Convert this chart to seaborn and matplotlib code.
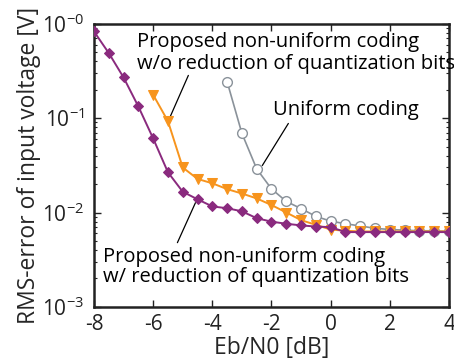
import matplotlib
matplotlib.use("Agg")
import matplotlib.pyplot as plt
import numpy as np
import seaborn as sns
from matplotlib.ticker import FixedLocator, FixedFormatter, LogLocator, NullFormatter

# Eb/N0 grids (dB) and RMS error [V]
ebn0_w = [-8, -7.5, -7, -6.5, -6, -5.5, -5, -4.5, -4, -3.5, -3, -2.5, -2, -1.5,
          -1, -0.5, 0, 0.5, 1, 1.5, 2, 2.5, 3, 3.5, 4]
rms_w_reduction = [0.83, 0.49, 0.27, 0.133, 0.061, 0.0267, 0.0166, 0.0138, 0.0116,
                   0.0111, 0.0103, 0.0087, 0.0080, 0.0076, 0.0073, 0.0071, 0.0070,
                   0.0062, 0.0062, 0.0062, 0.0062, 0.0062, 0.0062, 0.0062, 0.0062]

ebn0_wo = [-6, -5.5, -5, -4.5, -4, -3.5, -3, -2.5, -2, -1.5, -1, -0.5, 0, 0.5,
           1, 1.5, 2, 2.5, 3, 3.5, 4]
rms_wo_reduction = [0.177, 0.093, 0.030, 0.0227, 0.0204, 0.0177, 0.0159, 0.0141,
                    0.0120, 0.0100, 0.0083, 0.0074, 0.0066, 0.0064, 0.0063, 0.0063,
                    0.0063, 0.0063, 0.0063, 0.0063, 0.0063]

ebn0_uniform = [-3.5, -3, -2.5, -2, -1.5, -1, -0.5, 0, 0.5, 1, 1.5, 2, 2.5, 3, 3.5, 4]
rms_uniform = [0.244, 0.069, 0.029, 0.0178, 0.0131, 0.0110, 0.0091, 0.0081, 0.0076,
               0.0072, 0.0068, 0.0066, 0.0065, 0.0064, 0.0064, 0.0063]

x_ticks = [-8, -6, -4, -2, 0, 2, 4]
y_ticks = [1e-3, 1e-2, 1e-1, 1e0]
y_labels = ["$10^{-3}$", "$10^{-2}$", "$10^{-1}$", "$10^{-0}$"]

sns.set_style("ticks")
plt.rcParams["font.family"] = ["Open Sans", "DejaVu Sans"]
plt.rcParams["mathtext.default"] = "regular"

PURPLE = "#8a2a7e"
ORANGE = "#f7941d"
GRAY = "#8a929a"
INK = "#222222"

fig = plt.figure(figsize=(4.54, 3.61), dpi=100)
ax = fig.add_axes([0.207, 0.150, 0.782, 0.784])

sns.lineplot(x=ebn0_uniform, y=rms_uniform, ax=ax, color=GRAY, lw=1.2,
             marker="o", markersize=7, markerfacecolor="white",
             markeredgecolor=GRAY, markeredgewidth=1.0, sort=False, zorder=3)
sns.lineplot(x=ebn0_wo, y=rms_wo_reduction, ax=ax, color=ORANGE, lw=1.4,
             marker="v", markersize=7.5, markeredgecolor=ORANGE, sort=False, zorder=4)
sns.lineplot(x=ebn0_w, y=rms_w_reduction, ax=ax, color=PURPLE, lw=1.4,
             marker="D", markersize=5.5, markeredgecolor=PURPLE, sort=False, zorder=5)

ax.set_yscale("log")
ax.set_xlim(-8, 4)
ax.set_ylim(1e-3, 1e0)
ax.xaxis.set_major_locator(FixedLocator(x_ticks))
ax.set_xticklabels([str(t) for t in x_ticks])
ax.yaxis.set_major_locator(FixedLocator(y_ticks))
ax.yaxis.set_major_formatter(FixedFormatter(y_labels))
ax.yaxis.set_minor_locator(LogLocator(base=10, subs=np.arange(2, 10)))
ax.yaxis.set_minor_formatter(NullFormatter())

ax.tick_params(which="both", direction="in", top=True, right=True,
               labelsize=15, colors=INK)
ax.tick_params(axis="y", pad=7)
ax.tick_params(axis="x", pad=5)
ax.tick_params(which="major", length=5, width=1)
ax.tick_params(which="minor", length=2.5, width=0.8)
for s in ax.spines.values():
    s.set_linewidth(1.8)
    s.set_color(INK)

ax.set_xlabel("Eb/N0 [dB]", fontsize=16.5, labelpad=1)
ax.set_ylabel("RMS-error of input voltage [V]", fontsize=16.5, labelpad=1)

# annotation texts (left, baseline positions in data coords)
txt = dict(fontsize=14.5, ha="left", va="baseline", color="black")
ax.text(-6.56, 0.567, "Proposed non-uniform coding", **txt)
ax.text(-6.56, 0.334, "w/o reduction of quantization bits", **txt)
ax.text(-1.95, 0.107, "Uniform coding", **txt)
ax.text(-7.69, 0.00296, "Proposed non-uniform coding", **txt)
ax.text(-7.69, 0.00182, "w/ reduction of quantization bits", **txt)

# leader lines
lead = dict(arrowstyle="-", color="black", lw=0.9, shrinkA=0, shrinkB=0)
ax.annotate("", xy=(-5.45, 0.0993), xytext=(-4.81, 0.284), arrowprops=lead)
ax.annotate("", xy=(-2.31, 0.0315), xytext=(-1.43, 0.0879), arrowprops=lead)
ax.annotate("", xy=(-4.57, 0.0127), xytext=(-5.18, 0.00479), arrowprops=lead)

fig.savefig("out.png", dpi=100)
